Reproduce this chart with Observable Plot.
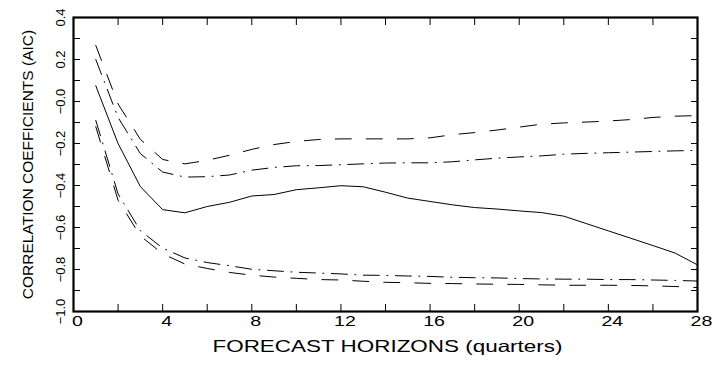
<!DOCTYPE html>
<html><head><meta charset="utf-8">
<script src="https://cdn.jsdelivr.net/npm/d3@7"></script>
<script src="https://cdn.jsdelivr.net/npm/@observablehq/plot@0.6"></script>
<style>html,body{margin:0;padding:0;background:#fff;} svg{display:block}</style>
</head><body><div id="chart"></div>
<script>
const horizons = [1,2,3,4,5,6,7,8,9,10,11,12,13,14,15,16,17,18,19,20,21,22,23,24,25,26,27,28];
const central = [0.075,-0.2,-0.405,-0.515,-0.53,-0.5,-0.48,-0.45,-0.443,-0.42,-0.411,-0.401,-0.406,-0.432,-0.46,-0.476,-0.492,-0.505,-0.512,-0.521,-0.529,-0.546,-0.581,-0.616,-0.651,-0.686,-0.722,-0.778];
const upperDashed = [0.267,-0.012,-0.18,-0.276,-0.297,-0.28,-0.256,-0.228,-0.205,-0.19,-0.181,-0.178,-0.178,-0.178,-0.178,-0.173,-0.158,-0.148,-0.136,-0.122,-0.108,-0.102,-0.098,-0.093,-0.086,-0.076,-0.07,-0.067];
const upperDashDot = [0.2,-0.076,-0.248,-0.336,-0.36,-0.358,-0.35,-0.327,-0.314,-0.306,-0.305,-0.301,-0.297,-0.293,-0.292,-0.292,-0.287,-0.278,-0.27,-0.264,-0.259,-0.251,-0.247,-0.244,-0.241,-0.238,-0.235,-0.233];
const lowerDashDot = [-0.09,-0.44,-0.615,-0.698,-0.745,-0.767,-0.782,-0.799,-0.806,-0.813,-0.817,-0.821,-0.827,-0.828,-0.831,-0.833,-0.837,-0.839,-0.84,-0.843,-0.845,-0.846,-0.846,-0.848,-0.848,-0.85,-0.852,-0.855];
const lowerDashed = [-0.12,-0.47,-0.64,-0.725,-0.774,-0.795,-0.814,-0.827,-0.836,-0.842,-0.848,-0.85,-0.856,-0.861,-0.863,-0.866,-0.867,-0.869,-0.87,-0.871,-0.873,-0.875,-0.875,-0.875,-0.876,-0.878,-0.881,-0.886];

const xTicks = [0,2,4,6,8,10,12,14,16,18,20,22,24,26,28];
const xLabelValues = [0,4,8,12,16,20,24,28];
const xTickLabels = ["0","4","8","12","16","20","24","28"];
const yTicks = [-1.0,-0.9,-0.8,-0.7,-0.6,-0.5,-0.4,-0.3,-0.2,-0.1,0.0,0.1,0.2,0.3,0.4];
const yLabelValues = [-1.0,-0.8,-0.6,-0.4,-0.2,0.0,0.2,0.4];
const yTickLabels = ["\u22121.0","\u22120.8","\u22120.6","\u22120.4","\u22120.2","\u22120.0","0.2","0.4"];
const xTitle = "FORECAST HORIZONS (quarters)";
const yTitle = "CORRELATION COEFFICIENTS (AIC)";

const FONT = '"Liberation Sans", Arial, Helvetica, sans-serif';
const rows = (vals) => horizons.map((h, i) => ({h, v: vals[i]}));
const lineOpts = {x: "h", y: "v", stroke: "#000", strokeWidth: 1};

const plot = Plot.plot({
  width: 712, height: 365,
  marginLeft: 73, marginRight: 15, marginTop: 17, marginBottom: 54,
  style: {fontFamily: FONT, background: "#fff", color: "#000"},
  x: {domain: [0, 28]},
  y: {domain: [-1.0, 0.4]},
  marks: [
    Plot.axisX(xTicks, {anchor: "bottom", tickSize: 7, dy: -7, tickFormat: () => "", label: null}),
    Plot.axisX(xTicks, {anchor: "top", tickSize: 7, dy: 7, tickFormat: () => "", label: null}),
    Plot.axisY(yTicks, {anchor: "left", tickSize: 7, dx: 7, tickFormat: () => "", label: null}),
    Plot.axisY(yTicks, {anchor: "right", tickSize: 7, dx: -7, tickFormat: () => "", label: null}),
    Plot.axisX(xLabelValues, {anchor: "bottom", tickSize: 0, tickPadding: 5, dx: 4, fontSize: 14,
      tickFormat: d => xTickLabels[xLabelValues.indexOf(d)], label: null}),
    Plot.axisY(yLabelValues, {anchor: "left", tickSize: 0, tickPadding: 9, tickRotate: -90, fontSize: 13,
      tickFormat: d => yTickLabels[yLabelValues.indexOf(d)], label: null}),
    Plot.line(rows(central), {...lineOpts}),
    Plot.line(rows(upperDashed), {...lineOpts, strokeDasharray: "16,15"}),
    Plot.line(rows(lowerDashed), {...lineOpts, strokeDasharray: "16,15"}),
    Plot.line(rows(upperDashDot), {...lineOpts, strokeDasharray: "16,7.5,1,7.5"}),
    Plot.line(rows(lowerDashDot), {...lineOpts, strokeDasharray: "16,7.5,1,7.5"}),
    Plot.frame({stroke: "#000", strokeWidth: 2.2}),
    Plot.text([yTitle], {frameAnchor: "left", dx: -45, rotate: -90, textAnchor: "middle", fontSize: 15.5, fill: "#000"}),
    Plot.text([xTitle], {frameAnchor: "bottom", dy: 40, dx: 2, textAnchor: "middle", fontSize: 16.5, fill: "#000"})
  ]
});
document.getElementById("chart").append(plot);
plot.querySelectorAll('g[aria-label="x-axis tick label"] text').forEach(t => {
  const w = t.getComputedTextLength();
  if (w > 0) {
    t.setAttribute("textLength", (w * 1.4).toFixed(1));
    t.setAttribute("lengthAdjust", "spacingAndGlyphs");
  }
});
plot.querySelectorAll("text").forEach(t => {
  if (t.textContent === xTitle) {
    t.setAttribute("textLength", "350");
    t.setAttribute("lengthAdjust", "spacingAndGlyphs");
  }
});
</script>
</body></html>
